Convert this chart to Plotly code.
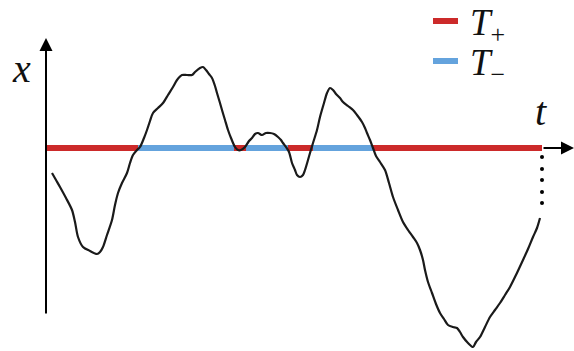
import plotly.graph_objects as go

# Sample path x(t)
t_vals = [6, 10, 14, 20, 26, 29, 32, 37, 44, 51, 54, 57, 61, 66, 69, 72, 76, 81, 84, 87, 91, 94,
          98, 101, 104, 107, 112, 117, 122, 127, 131, 136, 141, 146, 149, 154, 157, 160, 163, 166,
          169, 171, 174, 176, 179, 182, 185, 189, 192, 195, 199, 203, 206, 209, 212, 216, 220, 224,
          228, 232, 235, 237, 240, 243, 246, 249, 251, 254, 257, 259, 262, 264, 267, 271, 274, 278,
          281, 284, 287, 290, 294, 297, 302, 307, 311, 316, 319, 321, 324, 327, 330, 334, 339, 343,
          347, 352, 357, 362, 367, 371, 374, 377, 379, 382, 386, 390, 394, 398, 402, 407, 411, 414,
          417, 422, 427, 430, 434, 439, 444, 449, 454, 459, 464, 470, 477, 482, 487, 491, 494]
x_vals = [-25, -32, -39, -50, -62, -74, -89, -99, -103, -106, -104, -99, -87, -72, -57, -45, -35,
          -25, -15, -7, -2, 1, 10, 18, 27, 35, 40, 45, 53, 61, 68, 73, 73, 73, 76, 80, 81, 78, 74,
          70, 62, 55, 45, 38, 28, 18, 10, 1, -2, -2, 1, 7, 10, 14, 15, 13, 15, 15, 14, 11, 8, 5, 1,
          -4, -15, -22, -27, -29, -27, -22, -12, -5, 5, 18, 31, 45, 55, 60, 58, 54, 50, 46, 42, 38,
          33, 26, 20, 15, 8, 0, -8, -14, -22, -35, -49, -62, -74, -82, -89, -95, -102, -112, -122,
          -134, -145, -156, -165, -171, -177, -179, -180, -184, -189, -195, -199, -194, -189, -179,
          -169, -162, -155, -147, -139, -127, -112, -101, -89, -80, -70]

# Sign intervals along the time axis: (start, end, label)
seg_start = [1, 92, 188, 200, 242, 267, 327]
seg_end = [92, 188, 200, 242, 267, 327, 496]
seg_kind = ["+", "-", "+", "-", "+", "-", "+"]

# Continuation dots below the end of the time axis
dot_t = [496, 496, 496, 496, 496]
dot_x = [-9, -21, -32, -44, -55]

RED = "#cc2a2a"
BLUE = "#64a3dd"
colors = {"+": RED, "-": BLUE}

fig = go.Figure()

for s, e, k in zip(seg_start, seg_end, seg_kind):
    fig.add_trace(go.Scatter(x=[s, e], y=[0, 0], mode="lines",
                             line=dict(color=colors[k], width=6),
                             showlegend=False, hoverinfo="skip"))

fig.add_trace(go.Scatter(x=t_vals, y=x_vals, mode="lines",
                         line=dict(color="#1a1a1a", width=2.2, shape="spline", smoothing=0.8),
                         showlegend=False))

fig.add_trace(go.Scatter(x=dot_t, y=dot_x, mode="markers",
                         marker=dict(color="black", size=4),
                         showlegend=False))

# Axes drawn as arrows
fig.add_annotation(x=0, y=110, ax=0, ay=-167, xref="x", yref="y", axref="x", ayref="y",
                   showarrow=True, arrowhead=2, arrowsize=1.3, arrowwidth=2,
                   arrowcolor="black", text="")
fig.add_annotation(x=528, y=0, ax=496, ay=0, xref="x", yref="y", axref="x", ayref="y",
                   showarrow=True, arrowhead=2, arrowsize=1.3, arrowwidth=2,
                   arrowcolor="black", text="")

label_font = dict(family="Liberation Serif", size=40, color="#111111")
legend_font = dict(family="Liberation Serif", size=37, color="#111111")
fig.add_annotation(x=-25, y=80, xref="x", yref="y", text="<i>x</i>", showarrow=False,
                   font=label_font, xanchor="center", yanchor="middle")
fig.add_annotation(x=495, y=37, xref="x", yref="y", text="<i>t</i>", showarrow=False,
                   font=label_font, xanchor="center", yanchor="middle")

# Legend
legend_y = [127, 87]
legend_text = ["<i>T</i><sub>+</sub>", "<i>T</i><sub>−</sub>"]
legend_col = [RED, BLUE]
for ly, lt, lc in zip(legend_y, legend_text, legend_col):
    fig.add_shape(type="line", x0=387, x1=412, y0=ly, y1=ly, xref="x", yref="y",
                  line=dict(color=lc, width=6))
    fig.add_annotation(x=422, y=ly - 4, xref="x", yref="y", text=lt, showarrow=False,
                       font=legend_font, xanchor="left", yanchor="middle")

fig.update_layout(
    width=574, height=351,
    margin=dict(l=0, r=0, t=0, b=0),
    paper_bgcolor="white", plot_bgcolor="white",
    xaxis=dict(range=[-46, 528], visible=False, fixedrange=True),
    yaxis=dict(range=[-203, 148], visible=False, fixedrange=True),
    showlegend=False,
)

fig.write_html("out.html")
